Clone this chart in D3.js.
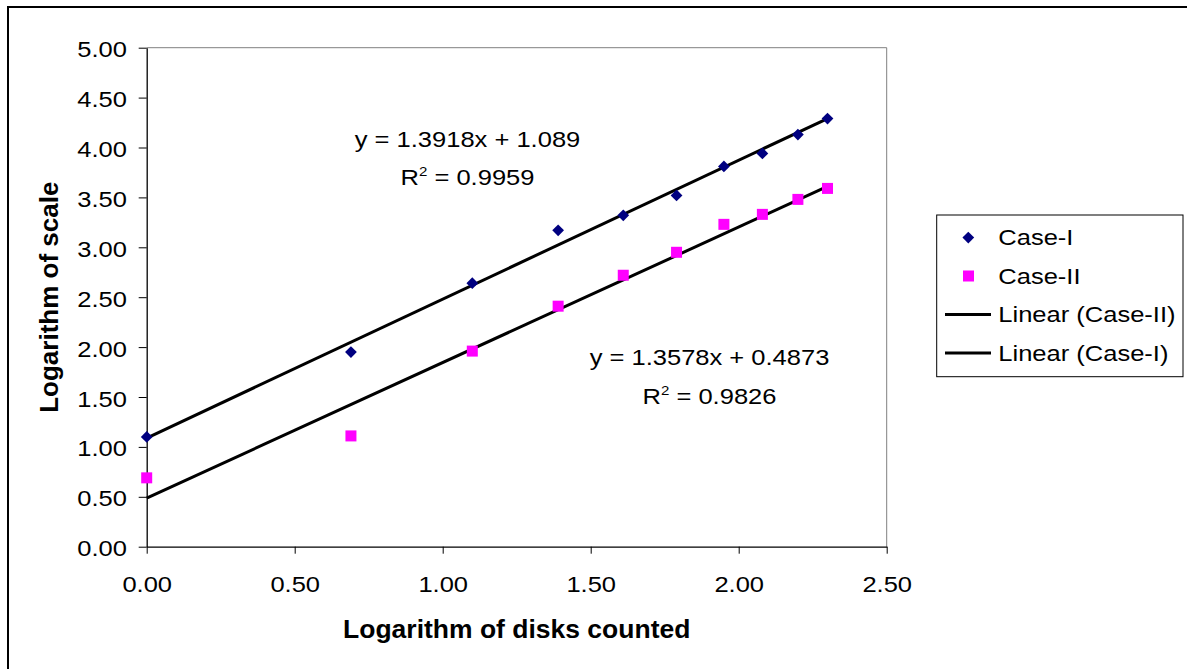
<!DOCTYPE html>
<html>
<head>
<meta charset="utf-8">
<script src="https://cdn.jsdelivr.net/npm/d3@7"></script>
<style>
  body { margin: 0; background: #fff; }
  text { font-family: "Liberation Sans", Arial, sans-serif; fill: #000; }
</style>
</head>
<body>
<div id="chart"></div>
<script>
// data (x = ln of disks counted)
var xValues = [0, 0.69, 1.10, 1.39, 1.61, 1.79, 1.95, 2.08, 2.20, 2.30];
var caseI = [1.10, 1.95, 2.64, 3.17, 3.32, 3.52, 3.81, 3.94, 4.13, 4.29];
var caseII = [0.69, 1.11, 1.96, 2.41, 2.72, 2.95, 3.23, 3.33, 3.48, 3.59];

// trend lines: [slope, intercept]
var fitI = [1.3918, 1.089];
var fitII = [1.3578, 0.4873];
var eqLabels = ["y = 1.3918x + 1.089", "y = 1.3578x + 0.4873"];
var r2Labels = ["0.9959", "0.9826"];

var xTicks = [0, 0.5, 1, 1.5, 2, 2.5];
var yTicks = [0, 0.5, 1, 1.5, 2, 2.5, 3, 3.5, 4, 4.5, 5];
var legendLabels = ["Case-I", "Case-II", "Linear (Case-II)", "Linear (Case-I)"];

var svgWidth = 1187;
var svgHeight = 669;
var sx = 1.16; // regular text looks horizontally stretched in the original

var margin = { top: 47.7, left: 146.7, right: 300.3, bottom: 122.3 };
var width = svgWidth - margin.left - margin.right;
var height = svgHeight - margin.top - margin.bottom;

var svg = d3.select("#chart")
  .append("svg")
  .attr("width", svgWidth)
  .attr("height", svgHeight);

// outer frame (runs off the right and bottom edges)
svg.append("rect")
  .attr("x", 8)
  .attr("y", 7)
  .attr("width", 1200)
  .attr("height", 700)
  .attr("fill", "none")
  .attr("stroke", "#000")
  .attr("stroke-width", 2);

var chartGroup = svg.append("g")
  .attr("transform", `translate(${margin.left}, ${margin.top})`);

var xScale = d3.scaleLinear().domain([0, 2.5]).range([0, width]);
var yScale = d3.scaleLinear().domain([0, 5]).range([height, 0]);

// plot area border (top/right grey)
chartGroup.append("path")
  .attr("d", `M0,0H${width}V${height}`)
  .attr("fill", "none")
  .attr("stroke", "#808080")
  .attr("stroke-width", 1);

function addText(g, x, y, str, anchor, size, weight, scale) {
  return g.append("text")
    .attr("transform", `translate(${x},${y}) scale(${scale},1)`)
    .attr("text-anchor", anchor)
    .style("font-size", size + "px")
    .style("font-weight", weight)
    .text(str);
}

// axes
var leftAxis = d3.axisLeft(yScale)
  .tickValues(yTicks)
  .tickFormat(d3.format(".2f"))
  .tickSize(8)
  .tickSizeOuter(0);

var bottomAxis = d3.axisBottom(xScale)
  .tickValues(xTicks)
  .tickFormat(d3.format(".2f"))
  .tickSize(7)
  .tickSizeOuter(0);

var yAxis = chartGroup.append("g").call(leftAxis);
var xAxis = chartGroup.append("g")
  .attr("transform", `translate(0, ${height})`)
  .call(bottomAxis);

[xAxis, yAxis].forEach(function(ax) {
  ax.select(".domain").attr("stroke", "#000").attr("stroke-width", 1.3);
  ax.selectAll(".tick line").attr("stroke", "#000");
  ax.selectAll(".tick text")
    .style("font-size", "22px")
    .attr("font-family", null)
    .attr("fill", "#000");
});

yAxis.selectAll(".tick text")
  .attr("x", -19.7 / sx)
  .attr("dy", "0.41em")
  .attr("transform", `scale(${sx},1)`);

xAxis.selectAll(".tick text")
  .attr("y", 45.5)
  .attr("dy", 0)
  .attr("transform", `scale(${sx},1)`);

// trend lines
var xMax = d3.max(xValues);
[fitI, fitII].forEach(function(f) {
  chartGroup.append("line")
    .attr("x1", xScale(0))
    .attr("y1", yScale(f[1]))
    .attr("x2", xScale(xMax))
    .attr("y2", yScale(f[0] * xMax + f[1]))
    .attr("stroke", "#000")
    .attr("stroke-width", 3);
});

// markers
var diamond = d3.symbol().type(d3.symbolDiamond2).size(88);

chartGroup.selectAll(".caseI")
  .data(caseI)
  .enter()
  .append("path")
  .attr("class", "caseI")
  .attr("d", diamond)
  .attr("transform", (d, i) => `translate(${xScale(xValues[i])},${yScale(d)})`)
  .attr("fill", "#000080");

chartGroup.selectAll(".caseII")
  .data(caseII)
  .enter()
  .append("rect")
  .attr("class", "caseII")
  .attr("x", (d, i) => xScale(xValues[i]) - 5.5)
  .attr("y", d => yScale(d) - 5.5)
  .attr("width", 11)
  .attr("height", 11)
  .attr("fill", "#ff00ff");

// equation labels
var eqPos = [[467.5, 146.7], [709.5, 365]];
eqPos.forEach(function(p, i) {
  addText(svg, p[0], p[1], eqLabels[i], "middle", 22, "normal", sx);
  var t = svg.append("text")
    .attr("transform", `translate(${p[0]},${p[1] + 38.5}) scale(${sx},1)`)
    .attr("text-anchor", "middle")
    .style("font-size", "22px");
  t.append("tspan").text("R");
  t.append("tspan").attr("dy", -9).style("font-size", "13px").text("2");
  t.append("tspan").attr("dy", 9).text(" = " + r2Labels[i]);
});

// axis titles
addText(svg, margin.left + width / 2, 638, "Logarithm of disks counted", "middle", 25, "bold", 1.06);
svg.append("text")
  .attr("transform", `translate(58.3, ${margin.top + height / 2}) rotate(-90)`)
  .attr("text-anchor", "middle")
  .style("font-size", "26px")
  .style("font-weight", "bold")
  .text("Logarithm of scale");

// legend
var legend = svg.append("g");
legend.append("rect")
  .attr("x", 936.7)
  .attr("y", 215)
  .attr("width", 246.3)
  .attr("height", 161.7)
  .attr("fill", "#fff")
  .attr("stroke", "#000")
  .attr("stroke-width", 1);

legendLabels.forEach(function(lbl, i) {
  var baseY = 245 + i * 38.5;
  var cy = baseY - 7.5;
  if (i === 0) {
    legend.append("path")
      .attr("d", diamond)
      .attr("transform", `translate(968.3,${cy})`)
      .attr("fill", "#000080");
  } else if (i === 1) {
    legend.append("rect")
      .attr("x", 963).attr("y", cy - 5.5)
      .attr("width", 11).attr("height", 11)
      .attr("fill", "#ff00ff");
  } else {
    legend.append("line")
      .attr("x1", 945).attr("x2", 991)
      .attr("y1", cy).attr("y2", cy)
      .attr("stroke", "#000")
      .attr("stroke-width", 3);
  }
  addText(legend, 998.3, baseY, lbl, "start", 22, "normal", sx);
});
</script>
</body>
</html>
